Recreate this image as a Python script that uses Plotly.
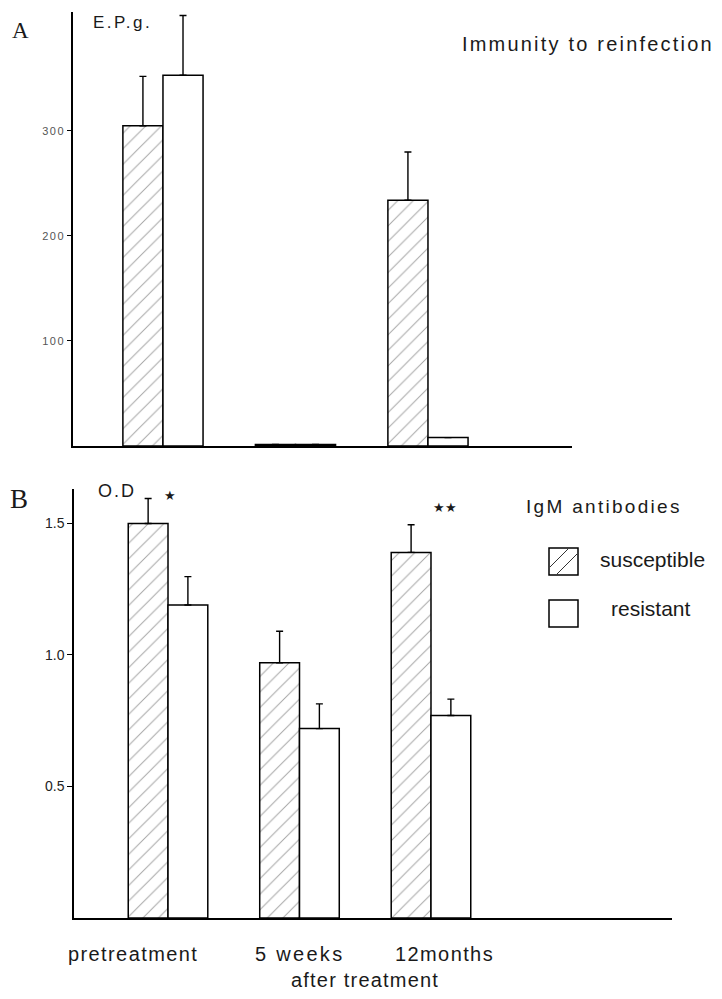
import plotly.graph_objects as go

# ---------------- data ----------------
categories = ["pretreatment", "5 weeks", "12months"]
group_names = ["susceptible", "resistant"]

epg_susceptible = [305, 1.5, 234]
epg_susceptible_err = [47, 0, 46]
epg_resistant = [353, 1.5, 8]
epg_resistant_err = [57, 0, 0]

od_susceptible = [1.50, 0.97, 1.39]
od_susceptible_err = [0.095, 0.12, 0.105]
od_resistant = [1.19, 0.72, 0.77]
od_resistant_err = [0.108, 0.094, 0.062]

epg_ticks = [100, 200, 300]
epg_tick_labels = ["100", "200", "300"]
od_ticks = [0.5, 1.0, 1.5]
od_tick_labels = ["0.5", "1.0", "1.5"]

panel_a_title = "Immunity to reinfection"
panel_b_title = "IgM antibodies"
x_title = "after treatment"
significance = ["★", "", "★★"]

# ---------------- layout helpers ----------------
# the page body adds an 8px margin, so the figure is drawn 8px smaller
OFF = 8
W, H = 722 - OFF, 999 - OFF


def fx(x):
    return (x - OFF) / W


def fy(y):
    return 1 - (y - OFF) / H


def spaced(text, sp):
    return f"<span style='letter-spacing:{sp}px'>{text}</span>"


SANS = "Liberation Sans, Arial, sans-serif"
SERIF = "Liberation Serif, Times New Roman, serif"

fig = go.Figure()


def add_bars(vals, errs, hatched, xa, ya, name):
    fig.add_trace(go.Bar(
        x=categories, y=vals, name=name, xaxis=xa, yaxis=ya,
        showlegend=False,
        marker=dict(
            color="white",
            line=dict(color="black", width=1.5),
            pattern=dict(shape="/" if hatched else "", fgcolor="#4d4d4d",
                         bgcolor="white", size=11, solidity=0.09),
        ),
        error_y=dict(type="data", symmetric=False, array=errs,
                     arrayminus=[0] * len(errs), color="black",
                     thickness=1.4, width=3.5),
    ))


add_bars(epg_susceptible, epg_susceptible_err, True, "x", "y", group_names[0])
add_bars(epg_resistant, epg_resistant_err, False, "x", "y", group_names[1])
add_bars(od_susceptible, od_susceptible_err, True, "x2", "y2", group_names[0])
add_bars(od_resistant, od_resistant_err, False, "x2", "y2", group_names[1])

axis_common = dict(showline=True, linecolor="black", linewidth=1.5,
                   showgrid=False, zeroline=False)

fig.update_layout(
    width=W, height=H,
    margin=dict(l=0, r=0, t=0, b=0),
    paper_bgcolor="white", plot_bgcolor="white",
    barmode="group", bargap=0.395, bargroupgap=0,
    font=dict(family=SANS, color="#1a1a1a"),
    xaxis=dict(domain=[fx(73), fx(572)], anchor="y",
               range=[-0.679, 3.087], showticklabels=False, ticks="",
               **axis_common),
    yaxis=dict(domain=[fy(446), fy(12)], anchor="x",
               range=[0, 413.3], tickvals=epg_ticks,
               ticktext=[spaced(t, 1.5) for t in epg_tick_labels],
               ticks="outside", ticklen=4, tickwidth=1.2, tickcolor="black",
               tickfont=dict(size=11, color="#555555", family=SANS),
               **axis_common),
    xaxis2=dict(domain=[fx(74), fx(672)], anchor="y2",
                range=[-0.715, 3.833], showticklabels=False, ticks="",
                **axis_common),
    yaxis2=dict(domain=[fy(918), fy(489)], anchor="x2",
                range=[0, 1.631], tickvals=od_ticks, ticktext=od_tick_labels,
                ticks="outside", ticklen=5, tickwidth=1.2, tickcolor="black",
                tickfont=dict(size=14, color="#222222", family=SANS),
                **axis_common),
)

annotations = []


def note(text, x, y, size, xanchor="left", family=SANS, color="#1a1a1a"):
    annotations.append(dict(text=text, x=fx(x), y=fy(y), xref="paper",
                            yref="paper", xanchor=xanchor, yanchor="middle",
                            showarrow=False,
                            font=dict(size=size, family=family, color=color)))


# panel letters and axis titles
note("A", 20, 30, 23, "center", SERIF)
note("B", 19, 499, 27, "center", SERIF)
note(spaced("E.P.g.", 2.5), 91, 22, 17)
note(spaced("O.D", 2), 96, 491, 18)
note(spaced(panel_a_title, 2.2), 460, 44, 20)
note(spaced(panel_b_title, 2.3), 524, 506, 19)

# significance stars
note(significance[0], 170, 495, 13, "center")
note(significance[2], 445, 507, 13, "center")

# legend text
note(group_names[0], 598, 559, 21)
note(group_names[1], 651, 608, 21, "center")

# category labels under panel B
cat_centers = [133, 299, 444]
cat_spacing = [1.4, 2.3, 1.4]
for c, cx, sp in zip(categories, cat_centers, cat_spacing):
    note(spaced(c, sp), cx, 954, 20, "center")
note(spaced(x_title, 1.2), 365, 980, 20, "center")

fig.update_layout(annotations=annotations)

# legend swatches (decoration boxes)
shapes = []


def rect(x0, y0, x1, y1):
    shapes.append(dict(type="rect", xref="paper", yref="paper",
                       x0=fx(x0), y0=fy(y1), x1=fx(x1), y1=fy(y0),
                       line=dict(color="black", width=1.5),
                       fillcolor="white"))


def seg(x0, y0, x1, y1):
    shapes.append(dict(type="line", xref="paper", yref="paper",
                       x0=fx(x0), y0=fy(y0), x1=fx(x1), y1=fy(y1),
                       line=dict(color="#333333", width=1)))


rect(549, 548, 578, 575)
seg(550, 567, 568, 549)
seg(557, 574, 577, 554)
rect(549, 600, 578, 627)

fig.update_layout(shapes=shapes)

fig.write_html("out.html")
